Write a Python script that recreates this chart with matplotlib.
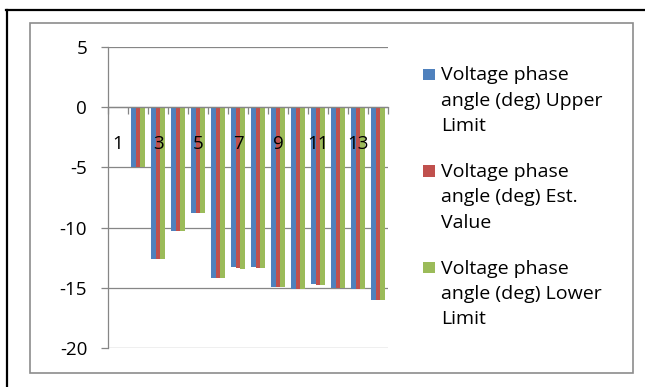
import matplotlib.pyplot as plt
from matplotlib.patches import Rectangle
from matplotlib.lines import Line2D
import numpy as np

# Voltage phase angle per bus (deg); bus 1 is the reference with no bars
buses = list(range(1, 15))
upper_limit = [0, -5.0, -12.65, -10.3, -8.78, -14.22, -13.32, -13.3, -14.94, -15.08, -14.74, -15.02, -15.08, -16.02]
est_value = [0, -5.0, -12.65, -10.3, -8.78, -14.22, -13.38, -13.36, -14.96, -15.1, -14.76, -15.03, -15.1, -16.02]
lower_limit = [0, -5.0, -12.65, -10.3, -8.78, -14.22, -13.42, -13.4, -14.98, -15.1, -14.76, -15.04, -15.1, -16.02]

series_names = [
    "Voltage phase\nangle (deg) Upper\nLimit",
    "Voltage phase\nangle (deg) Est.\nValue",
    "Voltage phase\nangle (deg) Lower\nLimit",
]
colors = ["#4F81BD", "#C0504D", "#9BBB59"]
y_ticks = [-20, -15, -10, -5, 0, 5]

plt.rcParams['font.family'] = ['Open Sans', 'DejaVu Sans']
GRID = "#868686"
FS = 13.5
W, H = 645, 387


def fx(px):
    return px / W


def fy(py):
    return 1 - py / H


fig = plt.figure(figsize=(W / 100, H / 100), dpi=100)

# outer border (top and left) and the chart frame
fig.add_artist(Line2D([fx(7), fx(7)], [fy(10), 0], color="black", lw=1.6))
fig.add_artist(Line2D([fx(6), 1], [fy(10), fy(10)], color="black", lw=1.6))
fig.add_artist(Rectangle((fx(30), fy(372.5)), fx(633) - fx(30), fy(22.5) - fy(372.5),
                         fill=False, edgecolor="#8C8C8C", lw=1.2))

ax = fig.add_axes([fx(108), fy(347.7), fx(388) - fx(108), fy(47.3) - fy(347.7)])

x = np.array(buses)
bw = 0.222
for i, (vals, col) in enumerate(zip([upper_limit, est_value, lower_limit], colors)):
    ax.bar(x + (i - 1) * bw, vals, width=bw, color=col, zorder=3)

ax.set_xlim(0.5, 14.5)
ax.set_ylim(-20, 5)
ax.set_yticks(y_ticks)
ax.set_yticklabels([str(v) for v in y_ticks])
ax.yaxis.grid(True, color=GRID, lw=0.9)
ax.set_axisbelow(True)

for s in ["top", "right"]:
    ax.spines[s].set_visible(False)
ax.spines["left"].set_color(GRID)
ax.spines["left"].set_linewidth(0.9)
ax.spines["bottom"].set_position(("data", 0))
ax.spines["bottom"].set_color(GRID)
ax.spines["bottom"].set_linewidth(0.9)
ax.spines["bottom"].set_zorder(4)

ax.tick_params(axis="y", direction="out", length=5, width=0.9, color=GRID,
               labelsize=FS, pad=10, labelcolor="black")

# tick marks between categories; labels every other bus drawn over the bars
ax.set_xticks(np.arange(0.5, 15, 1))
ax.set_xticklabels([])
ax.tick_params(axis="x", direction="out", length=5, width=0.9, color=GRID)
for b in buses:
    if b % 2 == 1:
        ax.annotate(str(b), xy=(b, 0), xytext=(0, -26.4), textcoords="offset points",
                    ha="center", va="center", fontsize=FS, zorder=6)

# legend drawn to the right of the plot
for i, (name, col) in enumerate(zip(series_names, colors)):
    top = 68 + i * 96.5
    fig.add_artist(Rectangle((fx(423), fy(top + 12)), fx(11.5), 11.5 / H,
                             facecolor=col, edgecolor="none"))
    fig.text(fx(441), fy(top - 1.5), name, fontsize=14, va="top", ha="left",
             linespacing=1.52, color="black")

plt.savefig("out.png", dpi=100)
plt.close()
